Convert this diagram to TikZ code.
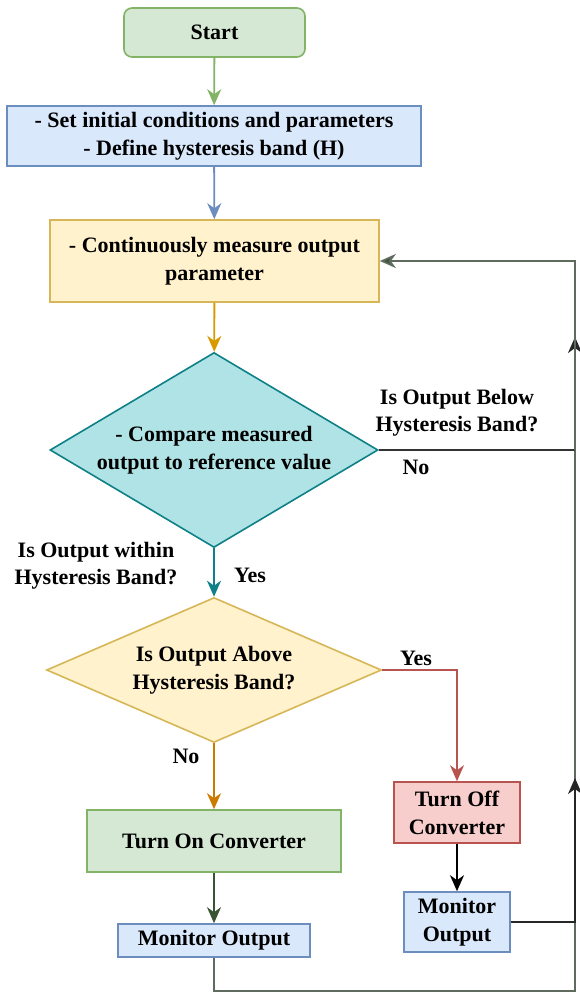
\documentclass[tikz,border=0pt]{standalone}
\usepackage{fontspec}
\setmainfont{Liberation Serif}
\usetikzlibrary{arrows.meta,shapes.geometric}
\definecolor{gfill}{HTML}{D5E8D4}\definecolor{gline}{HTML}{82B366}
\definecolor{bfill}{HTML}{DAE8FC}\definecolor{bline}{HTML}{6C8EBF}
\definecolor{yfill}{HTML}{FFF2CC}\definecolor{yline}{HTML}{D6B656}
\definecolor{tfill}{HTML}{B0E3E6}\definecolor{tline}{HTML}{0E8088}
\definecolor{rfill}{HTML}{F8CECC}\definecolor{rline}{HTML}{B85450}
\definecolor{oline}{HTML}{D79B00}\definecolor{brline}{HTML}{CC7A00}
\definecolor{dgreen}{HTML}{3A5431}\definecolor{gryline}{HTML}{5E6B5E}
\tikzset{
  txt/.style={font=\bfseries\fontsize{22}{28}\selectfont, align=center, inner sep=0pt},
  boxn/.style={txt, draw, line width=1.6pt, minimum width=#1},
  dia/.style={txt, diamond, draw, line width=1.6pt},
  lbl/.style={font=\bfseries\fontsize{22}{27}\selectfont, align=center, inner sep=0pt},
  tip/.style={-{Stealth[length=16pt,width=14pt,inset=5pt,#1]}},
  conn/.style={line width=1.8pt, tip={}},
  plain/.style={line width=1.8pt},
}
\begin{document}
\begin{tikzpicture}[x=1pt,y=-1pt]
\useasboundingbox (0,0) rectangle (580,993);
\node[boxn=181pt, minimum height=49pt, rounded corners=8pt, fill=gfill, draw=gline] (start) at (214.5,32.5) {Start};
\node[boxn=414pt, minimum height=60pt, fill=bfill, draw=bline] (init) at (214,136) {- Set initial conditions and parameters\\- Define hysteresis band (H)};
\node[boxn=329pt, minimum height=82pt, fill=yfill, draw=yline] (meas) at (214.5,261) {- Continuously measure output\\parameter};
\node[dia, minimum width=328pt, minimum height=195pt, aspect=1.68, fill=tfill, draw=tline] (cmp) at (214,450) {- Compare measured\\output to reference value};
\node[dia, minimum width=335pt, minimum height=145pt, aspect=2.31, fill=yfill, draw=yline] (above) at (214,670) {Is Output Above\\Hysteresis Band?};
\node[boxn=254pt, minimum height=62pt, fill=gfill, draw=gline] (on) at (214,841) {Turn On Converter};
\node[boxn=126pt, minimum height=61pt, fill=rfill, draw=rline] (off) at (457,812.5) {Turn Off\\Converter};
\node[boxn=192pt, minimum height=33pt, fill=bfill, draw=bline] (mon1) at (214,940.5) {Monitor Output};
\node[boxn=106pt, minimum height=60pt, fill=bfill, draw=bline] (mon2) at (457,922) {Monitor\\Output};
% labels
\node[lbl] (lbelow) at (457,413) {Is Output Below\\Hysteresis Band?};
\node[lbl] (lno1) at (416,467) {No};
\node[lbl] (lwithin) at (96,566) {Is Output within\\Hysteresis Band?};
\node[lbl] (lyes1) at (250,575) {Yes};
\node[lbl] (lyes2) at (416,658) {Yes};
\node[lbl] (lno2) at (186,756) {No};
% coordinates
\coordinate (rtop) at (575,261);
\coordinate (rmid) at (575,450);
\coordinate (rarr1) at (575,337);
\coordinate (rarr2) at (575,778);
\coordinate (rm2) at (575,922);
\coordinate (bl) at (214,991);
\coordinate (br) at (575,991);
\coordinate (offc) at (457,670);
% connectors
\draw[conn, draw=gline, tip={fill=gline}] (start) -- (init);
\draw[conn, draw=bline] (init) -- (meas);
\draw[conn, draw=oline] (meas) -- (cmp);
\draw[conn, draw=tline] (cmp) -- (above);
\draw[conn, draw=brline] (above) -- (on);
\draw[conn, draw=rline] (above.east) -- (offc) -- (off);
\draw[conn, draw=dgreen] (on) -- (mon1);
\draw[conn, draw=black] (off) -- (mon2);
\draw[plain, draw=gryline] (mon1) -- (bl) -- (br) -- (rarr2);
\draw[conn, draw=black!85] (mon2.east) -- (rm2) -- (rarr2);
\draw[plain, draw=gryline] (rarr2) -- (rarr1);
\draw[conn, draw=black!85] (rmid) -- (rarr1);
\draw[plain, draw=black!80] (cmp.east) -- (rmid);
\draw[conn, draw=gryline, tip={fill=dgreen}] (rmid) -- (rtop) -- (meas.east);
\end{tikzpicture}
\end{document}
